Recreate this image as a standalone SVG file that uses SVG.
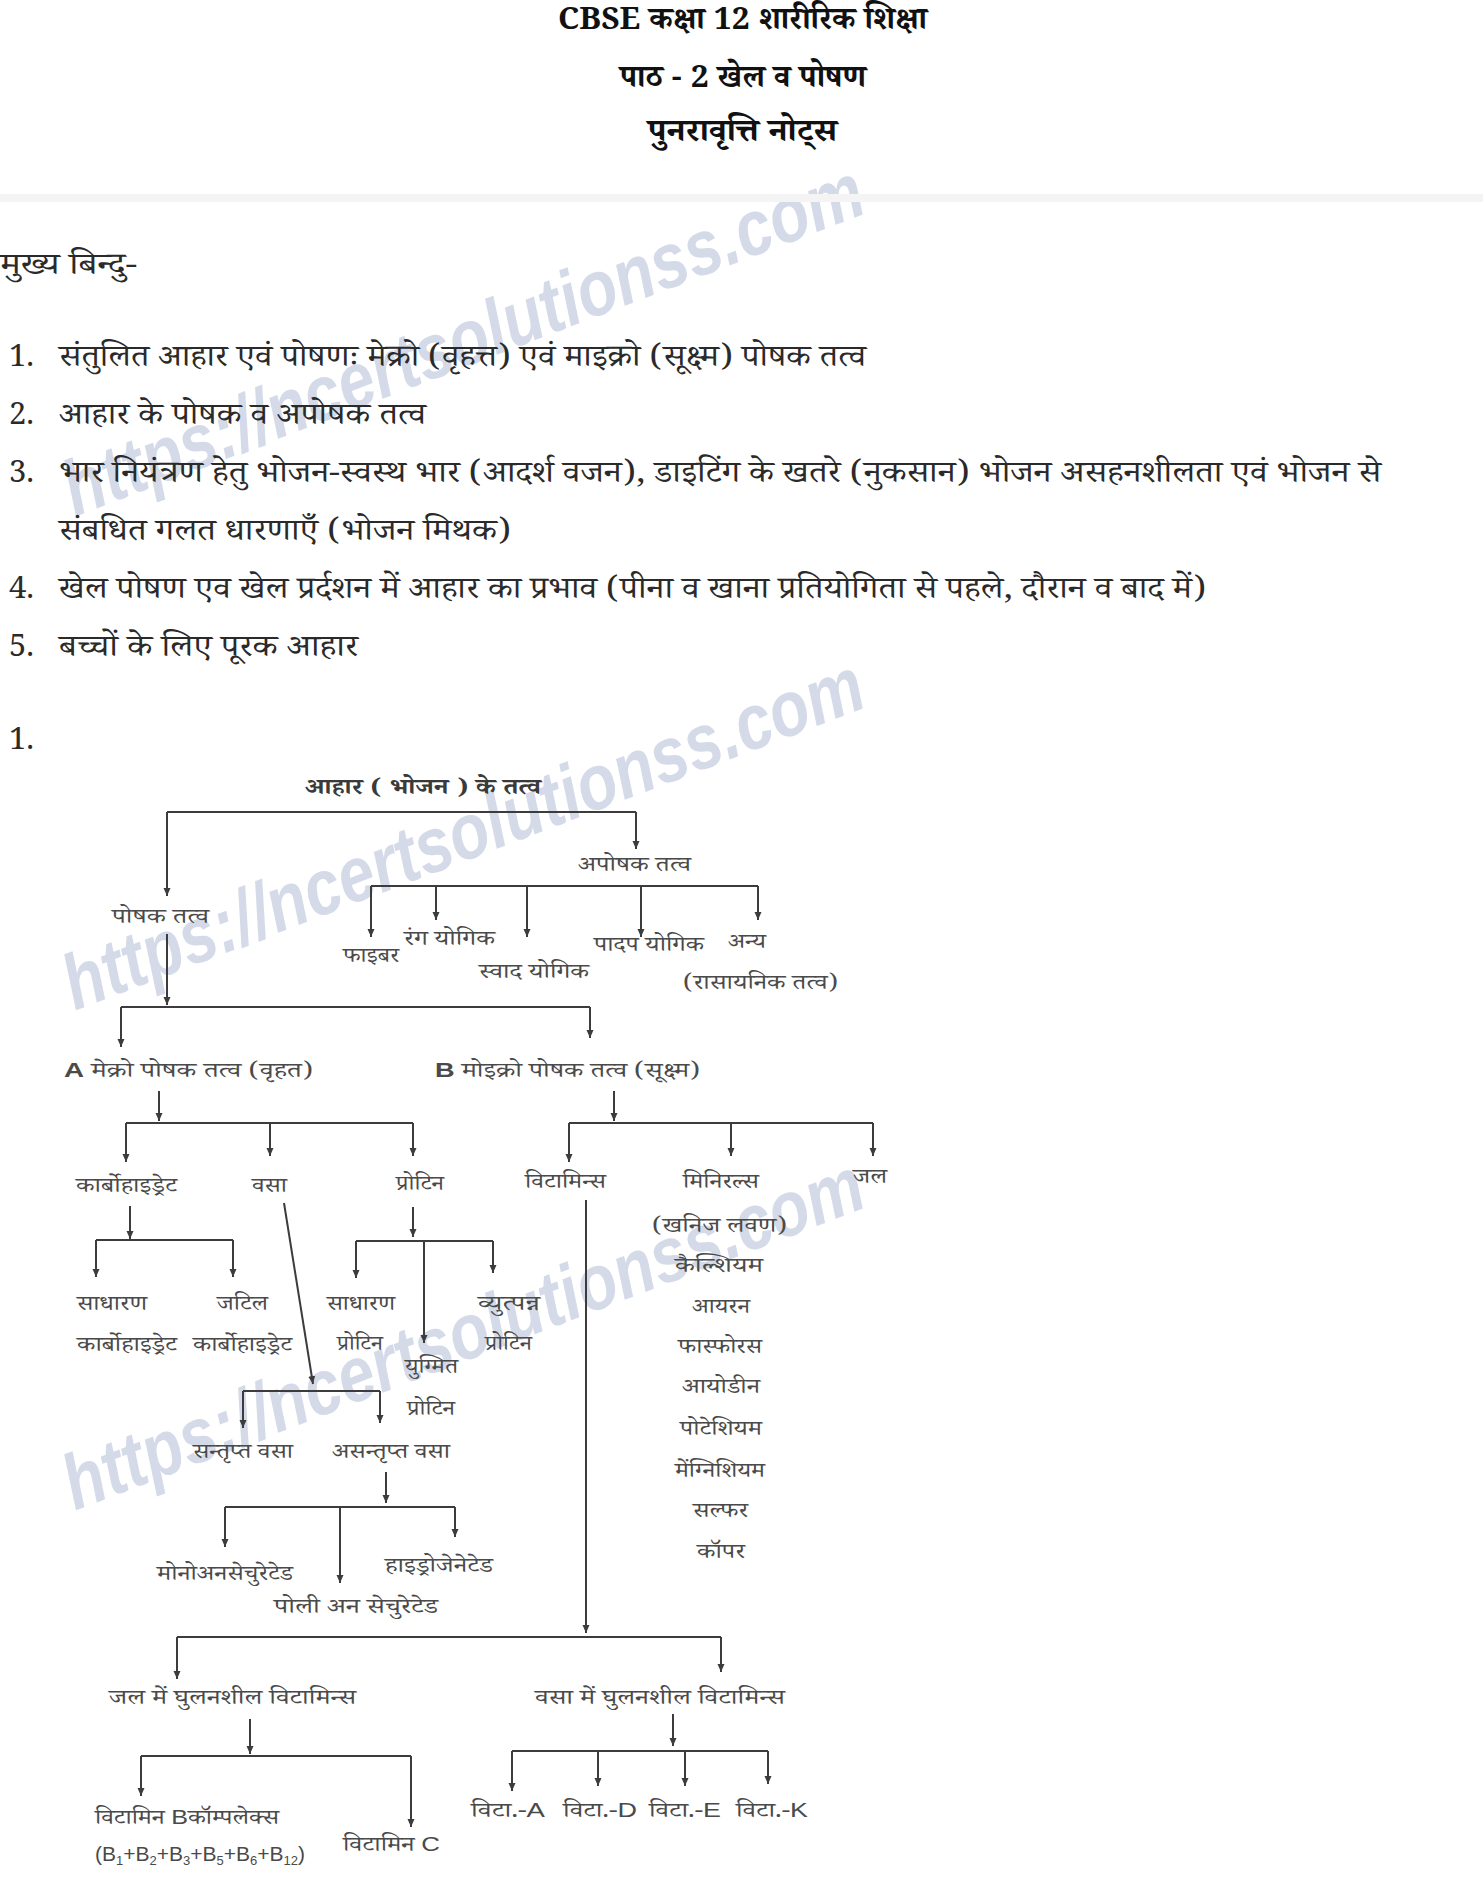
<svg xmlns="http://www.w3.org/2000/svg" width="1483" height="1878" viewBox="0 0 1483 1878">
<style>
text{font-family:"Noto Serif Devanagari","Noto Sans Devanagari","Noto Sans","Liberation Serif",serif}
.h{font-size:31px;font-weight:bold;fill:#111}
.b{font-size:31px;fill:#2a2a2a}
.d{font-size:21px;fill:#4a4a4a}
.dt{font-size:22px;fill:#3a3a3a;font-weight:bold}
.lat{font-family:"Liberation Sans",Arial,sans-serif}
.wm{font-family:"Liberation Sans",Arial,sans-serif;font-weight:bold;font-style:italic;font-size:78px;fill:#c5cde0;fill-opacity:0.75}
.ln{stroke:#3c3c3c;stroke-width:2;fill:none}
.ar{marker-end:url(#ah)}
</style>
<defs>
<marker id="ah" markerUnits="userSpaceOnUse" markerWidth="8" markerHeight="8" viewBox="0 0 8 8" refX="8" refY="4" orient="auto">
<path d="M0,0.5 L8,4 L0,7.5 z" fill="#3c3c3c"/>
</marker>
</defs>
<rect width="1483" height="1878" fill="#ffffff"/>
<g id="watermarks">
<text class="wm" transform="translate(463,340) rotate(-21)" x="0" y="26" text-anchor="middle" textLength="851" lengthAdjust="spacingAndGlyphs">https://ncertsolutionss.com</text>
<text class="wm" transform="translate(463,834) rotate(-21)" x="0" y="26" text-anchor="middle" textLength="851" lengthAdjust="spacingAndGlyphs">https://ncertsolutionss.com</text>
<text class="wm" transform="translate(463,1334) rotate(-21)" x="0" y="26" text-anchor="middle" textLength="851" lengthAdjust="spacingAndGlyphs">https://ncertsolutionss.com</text>
</g>
<g id="header">
<text class="h" x="558" y="29" textLength="369" lengthAdjust="spacingAndGlyphs">CBSE कक्षा 12 शारीरिक शिक्षा</text>
<text class="h" x="620" y="87" textLength="246" lengthAdjust="spacingAndGlyphs">पाठ - 2 खेल व पोषण</text>
<text class="h" x="648" y="141" textLength="189" lengthAdjust="spacingAndGlyphs">पुनरावृत्ति नोट्स</text>
<rect x="0" y="194" width="1483" height="8" fill="#f4f4f4"/>
</g>
<g id="points">
<text class="b" x="0" y="274" textLength="137" lengthAdjust="spacingAndGlyphs">मुख्य बिन्दु-</text>
<text class="b" x="9" y="366">1.</text>
<text class="b" x="59" y="366" textLength="807" lengthAdjust="spacingAndGlyphs">संतुलित आहार एवं पोषणः मेक्रो (वृहत्त) एवं माइक्रो (सूक्ष्म) पोषक तत्व</text>
<text class="b" x="9" y="424">2.</text>
<text class="b" x="59" y="424" textLength="367" lengthAdjust="spacingAndGlyphs">आहार के पोषक व अपोषक तत्व</text>
<text class="b" x="9" y="482">3.</text>
<text class="b" x="59" y="482" textLength="1322" lengthAdjust="spacingAndGlyphs">भार नियंत्रण हेतु भोजन-स्वस्थ भार (आदर्श वजन), डाइटिंग के खतरे (नुकसान) भोजन असहनशीलता एवं भोजन से</text>
<text class="b" x="59" y="540" textLength="452" lengthAdjust="spacingAndGlyphs">संबधित गलत धारणाएँ (भोजन मिथक)</text>
<text class="b" x="9" y="598">4.</text>
<text class="b" x="59" y="598" textLength="1147" lengthAdjust="spacingAndGlyphs">खेल पोषण एव खेल प्रर्दशन में आहार का प्रभाव (पीना व खाना प्रतियोगिता से पहले, दौरान व बाद में)</text>
<text class="b" x="9" y="656">5.</text>
<text class="b" x="59" y="656" textLength="299" lengthAdjust="spacingAndGlyphs">बच्चों के लिए पूरक आहार</text>
<text class="b" x="9" y="749">1.</text>
</g>
<g id="connectors">
<path class="ln" d="M167,812 H636"/>
<path class="ln ar" d="M167,812 V896"/>
<path class="ln ar" d="M636,812 V849"/>
<path class="ln" d="M371,886 H758"/>
<path class="ln ar" d="M371,886 V937"/>
<path class="ln ar" d="M436,886 V920"/>
<path class="ln ar" d="M527,886 V937"/>
<path class="ln ar" d="M641,886 V937"/>
<path class="ln ar" d="M758,886 V920"/>
<path class="ln ar" d="M167,934 V1005"/>
<path class="ln" d="M121,1007 H590"/>
<path class="ln ar" d="M121,1007 V1047"/>
<path class="ln ar" d="M590,1007 V1038"/>
<path class="ln ar" d="M159,1091 V1121"/>
<path class="ln" d="M126,1123 H413"/>
<path class="ln ar" d="M126,1123 V1162"/>
<path class="ln ar" d="M270,1123 V1156"/>
<path class="ln ar" d="M413,1123 V1156"/>
<path class="ln ar" d="M614,1091 V1121"/>
<path class="ln" d="M569,1123 H873"/>
<path class="ln ar" d="M569,1123 V1162"/>
<path class="ln ar" d="M731,1123 V1156"/>
<path class="ln ar" d="M873,1123 V1156"/>
<path class="ln ar" d="M130,1206 V1239"/>
<path class="ln" d="M96,1240 H233"/>
<path class="ln ar" d="M96,1240 V1277"/>
<path class="ln ar" d="M233,1240 V1277"/>
<path class="ln ar" d="M284,1203 L313,1384"/>
<path class="ln" d="M243,1391 H380"/>
<path class="ln ar" d="M243,1391 V1428"/>
<path class="ln ar" d="M380,1391 V1423"/>
<path class="ln ar" d="M386,1472 V1503"/>
<path class="ln" d="M225,1507 H455"/>
<path class="ln ar" d="M225,1507 V1547"/>
<path class="ln ar" d="M340,1507 V1583"/>
<path class="ln ar" d="M455,1507 V1537"/>
<path class="ln ar" d="M413,1207 V1237"/>
<path class="ln" d="M356,1241 H493"/>
<path class="ln ar" d="M356,1241 V1278"/>
<path class="ln ar" d="M424,1241 V1343"/>
<path class="ln ar" d="M493,1241 V1273"/>
<path class="ln ar" d="M586,1200 V1633"/>
<path class="ln" d="M177,1637 H721"/>
<path class="ln ar" d="M177,1637 V1679"/>
<path class="ln ar" d="M721,1637 V1672"/>
<path class="ln ar" d="M250,1719 V1754"/>
<path class="ln" d="M141,1756 H411"/>
<path class="ln ar" d="M141,1756 V1796"/>
<path class="ln ar" d="M411,1756 V1827"/>
<path class="ln ar" d="M673,1714 V1746"/>
<path class="ln" d="M512,1751 H768"/>
<path class="ln ar" d="M512,1751 V1791"/>
<path class="ln ar" d="M598,1751 V1786"/>
<path class="ln ar" d="M685,1751 V1786"/>
<path class="ln ar" d="M768,1751 V1784"/>
</g>
<g id="n-root"><text class="dt" x="305" y="794" textLength="236" lengthAdjust="spacingAndGlyphs">आहार ( भोजन ) के तत्व</text></g>
<g id="n-aposhak"><text class="d" x="578" y="871" textLength="113" lengthAdjust="spacingAndGlyphs">अपोषक तत्व</text></g>
<g id="n-poshak"><text class="d" x="112" y="923" textLength="97" lengthAdjust="spacingAndGlyphs">पोषक तत्व</text></g>
<g id="n-fiber"><text class="d" x="343" y="962" textLength="56" lengthAdjust="spacingAndGlyphs">फाइबर</text></g>
<g id="n-rang"><text class="d" x="404" y="945" textLength="91" lengthAdjust="spacingAndGlyphs">रंग योगिक</text></g>
<g id="n-swad"><text class="d" x="479" y="978" textLength="110" lengthAdjust="spacingAndGlyphs">स्वाद योगिक</text></g>
<g id="n-padap"><text class="d" x="594" y="951" textLength="110" lengthAdjust="spacingAndGlyphs">पादप योगिक</text></g>
<g id="n-anya"><text class="d" x="728" y="948" textLength="38" lengthAdjust="spacingAndGlyphs">अन्य</text><text class="d" x="683" y="989" textLength="155" lengthAdjust="spacingAndGlyphs">(रासायनिक तत्व)</text></g>
<g id="n-macro"><text class="d" x="64" y="1077" textLength="249" lengthAdjust="spacingAndGlyphs"><tspan class="lat" font-weight="bold">A</tspan> मेक्रो पोषक तत्व (वृहत)</text></g>
<g id="n-micro"><text class="d" x="435" y="1077" textLength="265" lengthAdjust="spacingAndGlyphs"><tspan class="lat" font-weight="bold">B</tspan> मोइक्रो पोषक तत्व (सूक्ष्म)</text></g>
<g id="n-carb"><text class="d" x="76" y="1192" textLength="101" lengthAdjust="spacingAndGlyphs">कार्बोहाइड्रेट</text></g>
<g id="n-vasa"><text class="d" x="252" y="1192" textLength="35" lengthAdjust="spacingAndGlyphs">वसा</text></g>
<g id="n-protein"><text class="d" x="396" y="1190" textLength="48" lengthAdjust="spacingAndGlyphs">प्रोटिन</text></g>
<g id="n-vitamins"><text class="d" x="525" y="1188" textLength="81" lengthAdjust="spacingAndGlyphs">विटामिन्स</text></g>
<g id="n-minerals">
<text class="d" x="683" y="1188" textLength="76" lengthAdjust="spacingAndGlyphs">मिनिरल्स</text>
<text class="d" x="652" y="1232" textLength="135" lengthAdjust="spacingAndGlyphs">(खनिज लवण)</text>
<text class="d" x="675" y="1272" textLength="88" lengthAdjust="spacingAndGlyphs">कैल्शियम</text>
<text class="d" x="692" y="1313" textLength="58" lengthAdjust="spacingAndGlyphs">आयरन</text>
<text class="d" x="678" y="1353" textLength="84" lengthAdjust="spacingAndGlyphs">फास्फोरस</text>
<text class="d" x="682" y="1393" textLength="78" lengthAdjust="spacingAndGlyphs">आयोडीन</text>
<text class="d" x="680" y="1435" textLength="82" lengthAdjust="spacingAndGlyphs">पोटेशियम</text>
<text class="d" x="675" y="1477" textLength="90" lengthAdjust="spacingAndGlyphs">मेंग्निशियम</text>
<text class="d" x="693" y="1517" textLength="55" lengthAdjust="spacingAndGlyphs">सल्फर</text>
<text class="d" x="697" y="1558" textLength="48" lengthAdjust="spacingAndGlyphs">कॉपर</text>
</g>
<g id="n-jal"><text class="d" x="853" y="1183" textLength="34" lengthAdjust="spacingAndGlyphs">जल</text></g>
<g id="n-simple-carb"><text class="d" x="77" y="1310" textLength="70" lengthAdjust="spacingAndGlyphs">साधारण</text><text class="d" x="77" y="1351" textLength="100" lengthAdjust="spacingAndGlyphs">कार्बोहाइड्रेट</text></g>
<g id="n-complex-carb"><text class="d" x="217" y="1310" textLength="51" lengthAdjust="spacingAndGlyphs">जटिल</text><text class="d" x="193" y="1351" textLength="99" lengthAdjust="spacingAndGlyphs">कार्बोहाइड्रेट</text></g>
<g id="n-sat"><text class="d" x="193" y="1458" textLength="100" lengthAdjust="spacingAndGlyphs">सन्तृप्त वसा</text></g>
<g id="n-unsat"><text class="d" x="332" y="1458" textLength="118" lengthAdjust="spacingAndGlyphs">असन्तृप्त वसा</text></g>
<g id="n-simple-protein"><text class="d" x="327" y="1310" textLength="68" lengthAdjust="spacingAndGlyphs">साधारण</text><text class="d" x="337" y="1350" textLength="46" lengthAdjust="spacingAndGlyphs">प्रोटिन</text></g>
<g id="n-derived-protein"><text class="d" x="478" y="1310" textLength="62" lengthAdjust="spacingAndGlyphs">व्युत्पन्न</text><text class="d" x="485" y="1350" textLength="47" lengthAdjust="spacingAndGlyphs">प्रोटिन</text></g>
<g id="n-conj-protein"><text class="d" x="405" y="1373" textLength="53" lengthAdjust="spacingAndGlyphs">युग्मित</text><text class="d" x="407" y="1415" textLength="48" lengthAdjust="spacingAndGlyphs">प्रोटिन</text></g>
<g id="n-mono"><text class="d" x="157" y="1580" textLength="136" lengthAdjust="spacingAndGlyphs">मोनोअनसेचुरेटेड</text></g>
<g id="n-hydro"><text class="d" x="385" y="1572" textLength="108" lengthAdjust="spacingAndGlyphs">हाइड्रोजेनेटेड</text></g>
<g id="n-poly"><text class="d" x="274" y="1613" textLength="164" lengthAdjust="spacingAndGlyphs">पोली अन सेचुरेटेड</text></g>
<g id="n-water-sol"><text class="d" x="109" y="1704" textLength="247" lengthAdjust="spacingAndGlyphs">जल में घुलनशील विटामिन्स</text></g>
<g id="n-fat-sol"><text class="d" x="535" y="1704" textLength="250" lengthAdjust="spacingAndGlyphs">वसा में घुलनशील विटामिन्स</text></g>
<g id="n-bcomplex">
<text class="d" x="95" y="1824" textLength="184" lengthAdjust="spacingAndGlyphs">विटामिन <tspan class="lat">B</tspan>कॉम्पलेक्स</text>
<text class="d lat" x="95" y="1861" font-size="23">(B<tspan font-size="13" dy="4">1</tspan><tspan dy="-4">+B</tspan><tspan font-size="13" dy="4">2</tspan><tspan dy="-4">+B</tspan><tspan font-size="13" dy="4">3</tspan><tspan dy="-4">+B</tspan><tspan font-size="13" dy="4">5</tspan><tspan dy="-4">+B</tspan><tspan font-size="13" dy="4">6</tspan><tspan dy="-4">+B</tspan><tspan font-size="13" dy="4">12</tspan><tspan dy="-4">)</tspan></text>
</g>
<g id="n-vitc"><text class="d" x="343" y="1851" textLength="97" lengthAdjust="spacingAndGlyphs">विटामिन <tspan class="lat">C</tspan></text></g>
<g id="n-vita"><text class="d" x="471" y="1817" textLength="74" lengthAdjust="spacingAndGlyphs">विटा.-<tspan class="lat">A</tspan></text></g>
<g id="n-vitd"><text class="d" x="563" y="1817" textLength="74" lengthAdjust="spacingAndGlyphs">विटा.-<tspan class="lat">D</tspan></text></g>
<g id="n-vite"><text class="d" x="649" y="1817" textLength="72" lengthAdjust="spacingAndGlyphs">विटा.-<tspan class="lat">E</tspan></text></g>
<g id="n-vitk"><text class="d" x="736" y="1817" textLength="72" lengthAdjust="spacingAndGlyphs">विटा.-<tspan class="lat">K</tspan></text></g>
</svg>
